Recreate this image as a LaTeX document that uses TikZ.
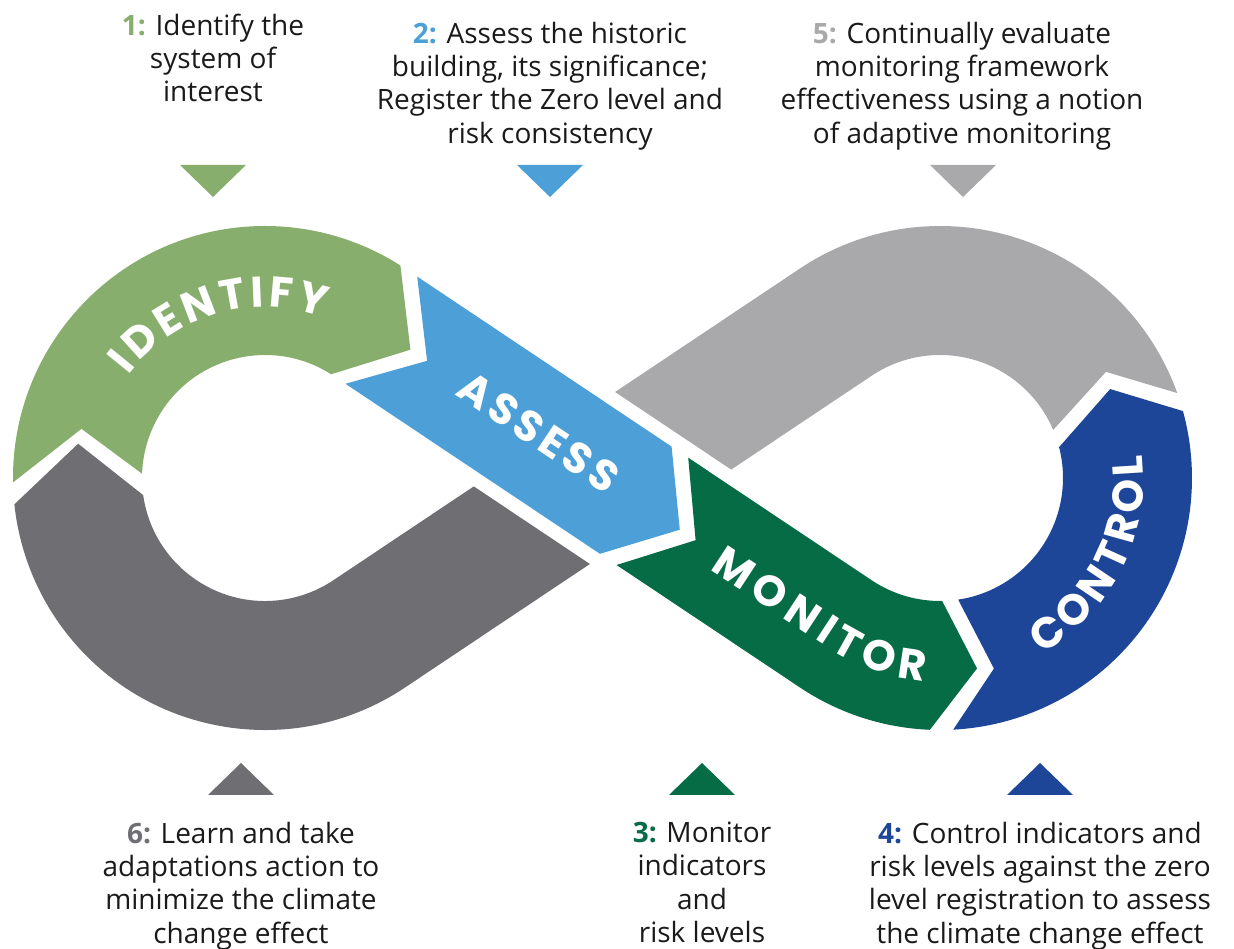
\documentclass[tikz,border=0pt]{standalone}
\usepackage{fontspec}
\setmainfont{Open Sans}
\newfontfamily\poppins{Poppins}
\usetikzlibrary{calc,decorations.text}
\definecolor{cIdent}{HTML}{88AE6D}
\definecolor{cAssess}{HTML}{4D9FD8}
\definecolor{cMonitor}{HTML}{066C45}
\definecolor{cControl}{HTML}{1D4699}
\definecolor{cLight}{HTML}{A9A9AB}
\definecolor{cDark}{HTML}{6F6E73}
\definecolor{cText}{HTML}{1A1A1A}
\newcommand\bandfont{\poppins\bfseries\fontsize{43pt}{43pt}\selectfont}
\tikzset{
  desc/.style={font=\fontsize{28pt}{33.3pt}\selectfont, text=cText, align=center, inner sep=0pt, anchor=north},
  bandlabel/.style={decorate, decoration={text along path, text={|\bandfont|#1}, text align=fit to path, text color=white}},
  downtri/.pic={\fill (-33,0) -- (33,0) -- (0,-32) -- cycle;},
  uptri/.pic={\fill (-33,0) -- (33,0) -- (0,32) -- cycle;}
}
\begin{document}
\begin{tikzpicture}[x=1pt,y=1pt]
\useasboundingbox (0,0) rectangle (1234,948);
\coordinate (L) at (265,470);
\coordinate (R) at (940,470);

% IDENTIFY (green, left loop top)
\fill[cIdent] ($(L)+(181:252)$) arc[start angle=181, end angle=57.5, radius=252pt]
  -- (410.4,598.3) -- ($(L)+(57.5:123)$) arc[start angle=57.5, end angle=178, radius=123pt]
  -- ($(L)+(165:190)$) -- cycle;

% dark gray (left loop bottom + strand)
\fill[cDark] (473.8,461.6) -- (589.9,384.0) -- ($(L)+(-56.25:252)$)
  arc[start angle=-56.25, end angle=-174, radius=252pt]
  -- ($(L)+(169.6:190)$) -- ($(L)+(188:123)$)
  arc[start angle=188, end angle=303.75, radius=123pt] -- cycle;

% light gray (right loop top + strand)
\fill[cLight] ($(R)+(19.7:252)$) arc[start angle=19.7, end angle=123.75, radius=252pt]
  -- (615.1,556.0) -- (731.2,478.4) -- ($(R)+(123.75:123)$)
  arc[start angle=123.75, end angle=23, radius=123pt]
  -- ($(R)+(32.6:197)$) -- cycle;

% ASSESS (blue strand)
\fill[cAssess] (417.2,671.4) -- (671.6,501.4) -- (679.8,418.3) -- (599.9,394.2)
  -- (345.5,564.2) -- (427.1,587.2) -- cycle;

% MONITOR (dark green)
\fill[cMonitor] (688.2,490.3) -- ($(R)+(236.25:123)$) arc[start angle=236.25, end angle=271, radius=123pt]
  -- ($(R)+(281:194)$) -- ($(R)+(267.7:252)$) arc[start angle=267.7, end angle=236.25, radius=252pt]
  -- (616.6,383.0) -- (695.6,407.8) -- cycle;

% CONTROL (dark blue)
\fill[cControl] ($(R)+(273:252)$) arc[start angle=273, end angle=375.4, radius=252pt]
  -- ($(R)+(27.6:192)$) -- ($(R)+(14.5:123)$) arc[start angle=14.5, end angle=-81.5, radius=123pt]
  -- ($(R)+(285.8:198)$) -- cycle;

% band labels
\path[bandlabel=IDENTIFY] ($(L)+(143:171)$) arc[start angle=143, end angle=70, radius=171pt];
\path[bandlabel=ASSESS] (454.2,553.8) -- (606.1,452.3);
\path[bandlabel=MONITOR] (709.5,378.4) -- (827.2,301.0) arc[start angle=236.25, end angle=265.5, radius=203.5pt];
\path[bandlabel=CONTROL] ($(R)+(-60:203.5)$) arc[start angle=-60, end angle=6.5, radius=203.5pt];

% triangles
\pic[cIdent] at (213,783) {downtri};
\pic[cAssess] at (550,783) {downtri};
\pic[cLight] at (963,783) {downtri};
\pic[cDark] at (241,153) {uptri};
\pic[cMonitor] at (702,153) {uptri};
\pic[cControl] at (1040,153) {uptri};

% texts
\node[desc] (t1) at (213,934.3) {{\bfseries\color{cIdent}1:} Identify the\\system of\\interest};
\node[desc] (t2) at (550,926.3) {{\bfseries\color{cAssess}2:} Assess the historic\\building, its significance;\\Register the Zero level and\\risk consistency};
\node[desc] (t5) at (962,926.3) {{\bfseries\color{cLight}5:} Continually evaluate\\monitoring framework\\effectiveness using a notion\\of adaptive monitoring};
\node[desc] (t6) at (241,126.3) {{\bfseries\color{cDark}6:} Learn and take\\adaptations action to\\minimize the climate\\change effect};
\node[desc] (t3) at (702,126.3) {{\bfseries\color{cMonitor}3:} Monitor\\indicators\\and\\risk levels};
\node[desc] (t4) at (1040,126.3) {{\bfseries\color{cControl}4:} Control indicators and\\risk levels against the zero\\level registration to assess\\the climate change effect};
\end{tikzpicture}
\end{document}
